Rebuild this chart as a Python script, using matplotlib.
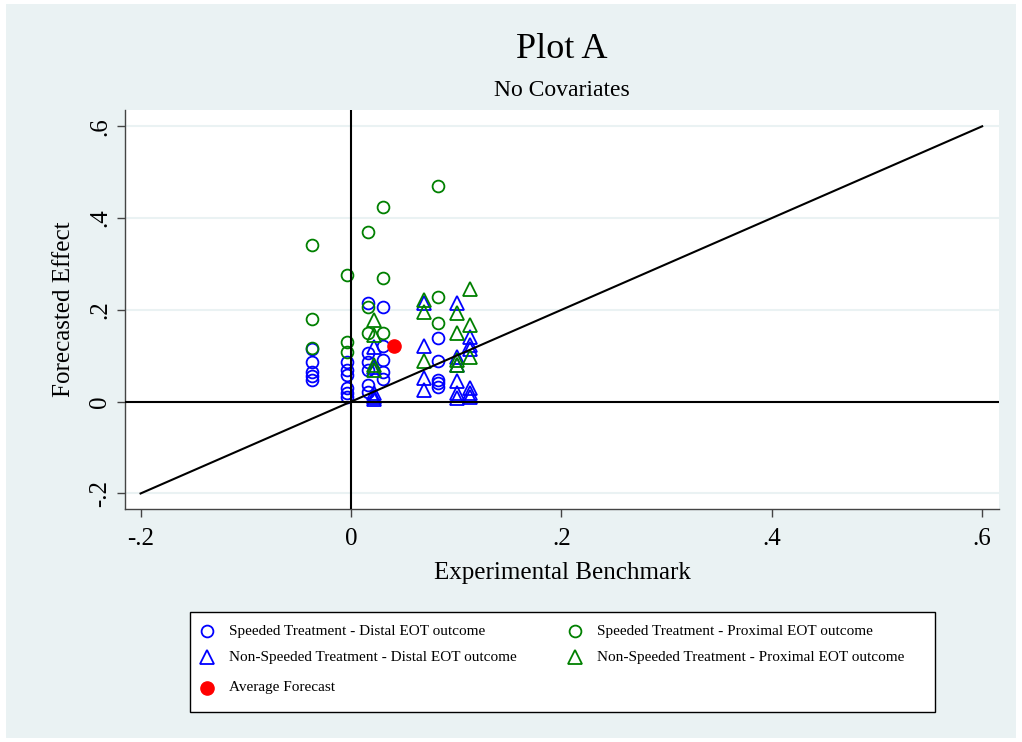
import numpy as np
import matplotlib.pyplot as plt
from matplotlib.lines import Line2D
from matplotlib.patches import Rectangle

# ==========================================================
# Data
# ==========================================================

# Speeded Treatment - Distal EOT outcome (blue circles)
sd_x = [-0.037] * 5 + [-0.004] * 6 + [0.016] * 6 + [0.030] * 5 + [0.083] * 5
sd_y = [0.115, 0.086, 0.065, 0.056, 0.047,
        0.087, 0.069, 0.058, 0.029, 0.018, 0.011,
        0.214, 0.107, 0.086, 0.069, 0.036, 0.022,
        0.207, 0.122, 0.091, 0.065, 0.049,
        0.138, 0.089, 0.047, 0.040, 0.033]

# Speeded Treatment - Proximal EOT outcome (green circles)
sp_x = [-0.037] * 3 + [-0.004] * 3 + [0.016] * 3 + [0.030] * 3 + [0.083] * 3
sp_y = [0.342, 0.180, 0.117,
        0.277, 0.131, 0.109,
        0.369, 0.207, 0.150,
        0.424, 0.269, 0.150,
        0.471, 0.229, 0.172]

# Non-Speeded Treatment - Distal EOT outcome (blue triangles)
nd_x = [0.022] * 5 + [0.069] * 4 + [0.101] * 6 + [0.113] * 6
nd_y = [0.120, 0.075, 0.018, 0.010, 0.005,
        0.214, 0.121, 0.051, 0.026,
        0.214, 0.098, 0.080, 0.044, 0.018, 0.008,
        0.142, 0.124, 0.114, 0.029, 0.018, 0.011]

# Non-Speeded Treatment - Proximal EOT outcome (green triangles)
np_x = [0.022] * 4 + [0.069] * 3 + [0.101] * 4 + [0.113] * 3
np_y = [0.178, 0.145, 0.080, 0.069,
        0.222, 0.195, 0.089,
        0.193, 0.149, 0.091, 0.080,
        0.245, 0.167, 0.098]

# Average Forecast
avg_x = [0.041]
avg_y = [0.121]

ticks = [-0.2, 0, 0.2, 0.4, 0.6]
tick_labels = ["-.2", "0", ".2", ".4", ".6"]

legend_labels = [
    "Speeded Treatment - Distal EOT outcome",
    "Speeded Treatment - Proximal EOT outcome",
    "Non-Speeded Treatment - Distal EOT outcome",
    "Non-Speeded Treatment - Proximal EOT outcome",
    "Average Forecast",
]

# ==========================================================
# Style
# ==========================================================

plt.rcParams["font.family"] = ["Liberation Serif", "DejaVu Serif"]

BG = "#EAF2F3"
BLUE = "#0000ff"
GREEN = "#008000"
RED = "#ff0000"

W, H = 1022, 742

fig = plt.figure(figsize=(W / 100, H / 100), dpi=100, facecolor="white")
fig.add_artist(Rectangle((6 / W, 4 / H), 1010 / W, 734 / H,
                         transform=fig.transFigure, facecolor=BG,
                         edgecolor="none", zorder=-10))

ax = fig.add_axes([125 / W, 1 - 509 / H, 874 / W, 399 / H])
ax.set_facecolor("white")

# ==========================================================
# Scatter
# ==========================================================

circ = dict(linestyle="none", marker="o", mfc="none", ms=8.5, mew=1.3, zorder=3)
tri = dict(linestyle="none", marker="^", mfc="none", ms=10.5, mew=1.3, zorder=3)

ax.plot(sd_x, sd_y, mec=BLUE, **circ)
ax.plot(sp_x, sp_y, mec=GREEN, **circ)
ax.plot(nd_x, nd_y, mec=BLUE, **tri)
ax.plot(np_x, np_y, mec=GREEN, **tri)
ax.plot(avg_x, avg_y, "o", color=RED, ms=9.5, zorder=4)

# reference lines
ax.plot([-0.2, 0.6], [-0.2, 0.6], color="black", lw=1.5, zorder=5)
ax.axhline(0, color="black", lw=1.5, zorder=5)
ax.axvline(0, color="black", lw=1.5, zorder=5)

ax.set_xlim(-0.2148, 0.616)
ax.set_ylim(-0.2338, 0.6355)

ax.set_xticks(ticks)
ax.set_xticklabels(tick_labels)
ax.set_yticks(ticks)
ax.set_yticklabels(tick_labels, rotation=90, va="center")

ax.grid(axis="y", color=BG, lw=1.5, zorder=0)
ax.set_axisbelow(True)

for s in ["top", "right"]:
    ax.spines[s].set_visible(False)
for s in ["left", "bottom"]:
    ax.spines[s].set_color("#444444")
    ax.spines[s].set_linewidth(1.0)

ax.tick_params(length=6, width=1, color="#444444", labelsize=18)
ax.tick_params(axis="x", pad=8)
ax.tick_params(axis="y", pad=4)

ax.set_xlabel("Experimental Benchmark", fontsize=18, labelpad=8)
ax.set_ylabel("Forecasted Effect", fontsize=18, labelpad=10)

fig.text(562 / W, 1 - 49 / H, "Plot A", fontsize=26, ha="center", va="center")
fig.text(562 / W, 1 - 91 / H, "No Covariates", fontsize=17, ha="center", va="center")

# ==========================================================
# Legend (Stata style box)
# ==========================================================

fig.add_artist(Rectangle((190 / W, 1 - 712 / H), 745 / W, 100 / H,
                         transform=fig.transFigure, facecolor="white",
                         edgecolor="black", lw=1.0))

legend_pos = [(207, 631), (575, 631), (207, 657), (575, 657), (207, 688)]
legend_style = [
    dict(marker="o", mfc="none", mec=BLUE, ms=8.5, mew=1.3),
    dict(marker="o", mfc="none", mec=GREEN, ms=8.5, mew=1.3),
    dict(marker="^", mfc="none", mec=BLUE, ms=10.5, mew=1.3),
    dict(marker="^", mfc="none", mec=GREEN, ms=10.5, mew=1.3),
    dict(marker="o", color=RED, ms=9.5),
]

for (px, py), label, style in zip(legend_pos, legend_labels, legend_style):
    fig.add_artist(Line2D([px / W], [1 - py / H], linestyle="none",
                          transform=fig.transFigure, **style))
    fig.text((px + 22) / W, 1 - py / H, label, fontsize=11,
             ha="left", va="center")

fig.savefig("out.png", dpi=100, facecolor="white")
